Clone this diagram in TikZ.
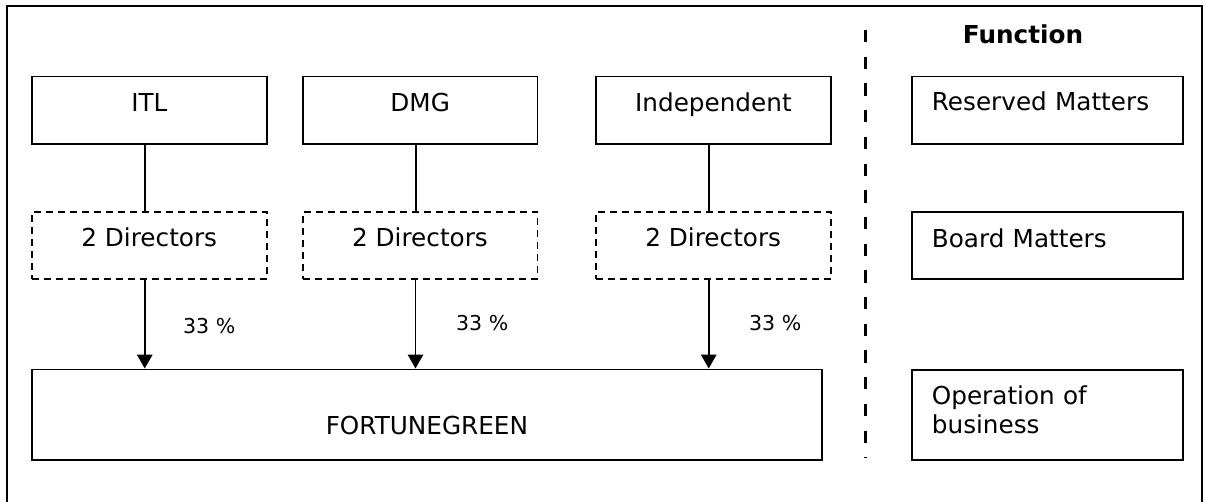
\documentclass[tikz,border=0pt]{standalone}
\usepackage{fontspec}
\setmainfont{DejaVu Sans}
\usetikzlibrary{arrows.meta,calc}
\begin{document}
\begin{tikzpicture}[x=1pt,y=-1pt,
  mainfont/.style={font=\fontsize{24.7}{29}\selectfont},
  smallfont/.style={font=\fontsize{20.5}{24}\selectfont},
  box/.style={draw, line width=1.8pt, inner sep=0pt, mainfont, anchor=north west},
  topbox/.style={box, text height=35pt, text depth=32.5pt},
  dirbox/.style={box, dash pattern=on 7pt off 5pt, line width=1.5pt, text height=34.7pt, text depth=32.3pt},
  funcbox/.style={box, minimum width=271pt, text width=231pt, inner xsep=20pt, inner ysep=0pt, align=left},
  conn/.style={line width=1.8pt},
  arr/.style={conn, -{Triangle[length=14pt,width=15.5pt]}},
  pct/.style={smallfont, inner sep=0pt, anchor=base west},
  divider/.style={line width=3pt, dash pattern=on 12.3pt off 14.4pt}
]
\useasboundingbox (0,0) rectangle (1205,501);
% outer frame (bottom edge lies below the visible area)
\draw[line width=1.3pt] (7,502) -- (7,6) -- (1202,6) -- (1202,502);

% top row
\node[topbox, minimum width=235pt] (itl) at (31,75.5) {ITL};
\node[topbox, minimum width=234.5pt] (dmg) at (302,75.5) {DMG};
\node[topbox, minimum width=235pt] (ind) at (595,75.5) {Independent};

% directors
\node[dirbox, minimum width=235pt] (d1) at (31,211) {2 Directors};
\node[dirbox, minimum width=234.5pt] (d2) at (302,211) {2 Directors};
\node[dirbox, minimum width=235pt] (d3) at (595,211) {2 Directors};

% fortunegreen
\node[box, minimum width=790pt, text height=65.5pt, text depth=25pt] (fg) at (31,368.5) {FORTUNEGREEN};

% connectors
\coordinate (c1) at ([xshift=-4.5pt]itl.south);
\coordinate (c2) at ([xshift=-4.5pt]dmg.south);
\coordinate (c3) at ([xshift=-4.5pt]ind.south);
\draw[conn] (c1) -- (c1 |- d1.north);
\draw[conn] (c2) -- (c2 |- d2.north);
\draw[conn] (c3) -- (c3 |- d3.north);
\coordinate (e1) at ([xshift=-4.5pt]d1.south);
\coordinate (e2) at ([xshift=-4.5pt]d2.south);
\coordinate (e3) at ([xshift=-4.5pt]d3.south);
\draw[arr] (e1) -- (e1 |- fg.north);
\draw[arr] (e2) -- (e2 |- fg.north);
\draw[arr] (e3) -- (e3 |- fg.north);

% percentages
\node[pct] (p1) at (183,333.5) {33 \%};
\node[pct] (p2) at (456,330.3) {33 \%};
\node[pct] (p3) at (749,330.5) {33 \%};

% divider
\draw[divider] (865.7,30) -- (865.7,458);

% function column
\node[mainfont, font=\fontsize{24.7}{29}\selectfont\bfseries, anchor=base, inner sep=0pt] (fn) at (1023,43.3) {Function};
\node[funcbox, text height=34.5pt, text depth=33pt] (r1) at (911,75.5) {Reserved Matters};
\node[funcbox, text height=35.5pt, text depth=31.5pt] (r2) at (911,211) {Board Matters};
\node[funcbox, text height=35pt, text depth=55pt] (r3) at (911,369) {Operation of\\business};
\end{tikzpicture}
\end{document}
